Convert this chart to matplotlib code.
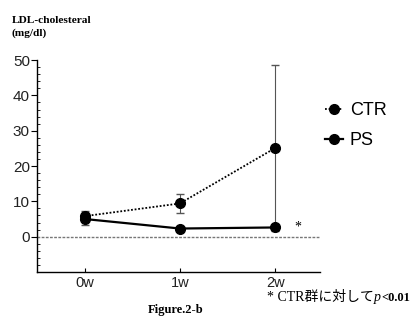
import matplotlib
matplotlib.use('Agg')
import matplotlib.pyplot as plt
import numpy as np

# データ
semanas = ['0w', '1w', '2w']
ctr = [5.8, 9.4, 25.1]
ctr_err = [1.5, 2.7, 23.5]
ps = [5.0, 2.3, 2.6]
ps_err = [1.6, 0.4, 0.5]

plt.rcParams['font.family'] = ['Liberation Sans', 'DejaVu Sans']

fig = plt.figure(figsize=(4.14, 3.23), dpi=100)
ax = fig.add_axes([0.089, 0.158, 0.684, 0.656])

x = np.arange(len(semanas))

ax.axhline(0, color='#777777', lw=1.0, ls=(0, (2, 1)), zorder=1)

ax.errorbar(x, ctr, yerr=ctr_err, fmt='o', color='black', ms=7,
            ecolor='#555555', elinewidth=0.8, capsize=3, zorder=3)
ax.plot(x, ctr, color='black', lw=1.3, ls=(0, (1, 1)), zorder=2)
ax.errorbar(x, ps, yerr=ps_err, fmt='o', color='black', ms=7,
            ecolor='#555555', elinewidth=0.8, capsize=3, zorder=3)
ax.plot(x, ps, color='black', lw=1.6, ls='-', zorder=2)

# leyenda manual
h1, = ax.plot([], [], color='black', marker='o', ms=7, lw=1.3, ls=(0, (1, 1)))
h2, = ax.plot([], [], color='black', marker='o', ms=7, lw=1.6, ls='-')
fig.legend([h1, h2], ['CTR', 'PS'], loc='upper left', bbox_to_anchor=(0.745, 0.735),
           frameon=False, fontsize=13, handlelength=1.0, handletextpad=0.4,
           labelspacing=0.75)

ax.text(2.24, 2.6, '*', fontsize=10, ha='center', va='center', family='Liberation Serif')

ax.set_xlim(-0.5, 2.47)
ax.set_ylim(-10, 50)
ax.set_yticks([0, 10, 20, 30, 40, 50])
ax.set_yticks(np.arange(-10, 51, 2), minor=True)
ax.set_xticks(x)
ax.set_xticklabels(semanas)
for s in ['top', 'right']:
    ax.spines[s].set_visible(False)
ax.spines['left'].set_linewidth(1.0)
ax.spines['bottom'].set_linewidth(1.0)
ax.tick_params(axis='y', which='major', direction='out', length=4, labelsize=11, pad=1)
ax.tick_params(axis='y', which='minor', direction='in', length=2)
ax.tick_params(axis='x', which='major', direction='in', length=3, labelsize=10.5, pad=3)
for lab in ax.get_xticklabels() + ax.get_yticklabels():
    lab.set_family(['Liberation Sans Narrow', 'Liberation Sans'])
    lab.set_color('#222222')

fig.text(0.028, 0.935, 'LDL-cholesteral', fontsize=8.2, fontweight='bold',
         family='Liberation Serif', va='center')
fig.text(0.028, 0.897, '(mg/dl)', fontsize=8.2, fontweight='bold',
         family='Liberation Serif', va='center')
fig.text(0.425, 0.04, 'Figure.2-b', fontsize=9, fontweight='bold',
         family='Liberation Serif', ha='center', va='center')

# nota al pie: texto + p en cursiva
fy = 0.078
t1 = fig.text(0.645, fy, '* CTR群に対して', fontsize=10,
              family=['Liberation Serif', 'Noto Sans CJK JP'], va='center')
fig.canvas.draw()
bb = t1.get_window_extent().transformed(fig.transFigure.inverted())
t2 = fig.text(bb.x1, fy, 'p', fontsize=10, style='italic',
              family='Liberation Serif', va='center')
fig.canvas.draw()
bb2 = t2.get_window_extent().transformed(fig.transFigure.inverted())
fig.text(bb2.x1, fy, '<0.01', fontsize=9, fontweight='bold',
         family='Liberation Serif', va='center')

fig.savefig('out.png', dpi=100)
